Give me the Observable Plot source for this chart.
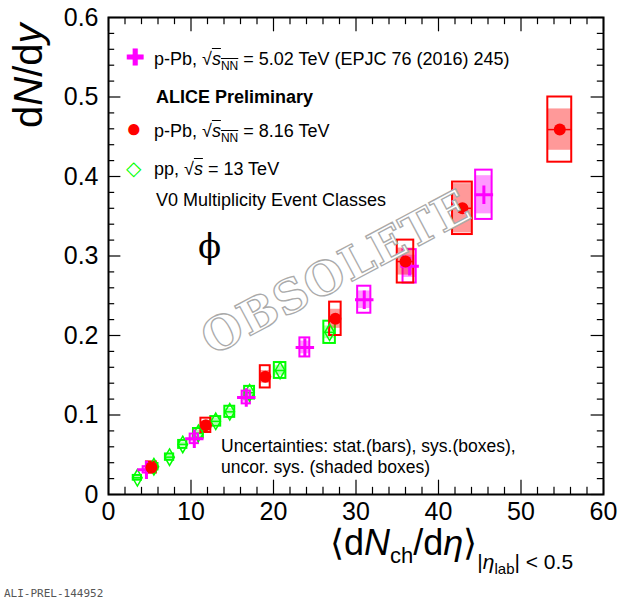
<!DOCTYPE html>
<html><head><meta charset="utf-8">
<script src="https://cdn.jsdelivr.net/npm/d3@7"></script>
<script src="https://cdn.jsdelivr.net/npm/@observablehq/plot@0.6"></script>
<style>
body{margin:0;background:#fff;font-family:"Liberation Sans",Arial,sans-serif;}
#c{position:relative;width:627px;height:603px;overflow:hidden}
.t{position:absolute;white-space:nowrap;color:#000}
</style></head><body><div id="c"></div>
<script>
const redX=[5.2,11.8,19.0,27.5,36.0,42.9,54.7];
const redY=[0.034,0.087,0.148,0.221,0.293,0.360,0.459];
const redSys=[0.007,0.009,0.014,0.021,0.027,0.033,0.041];
const redUnc=[0.004,0.005,0.008,0.012,0.017,0.031,0.026];
const redHW=[0.6,0.6,0.6,0.7,1.0,1.2,1.45];
const magX=[4.6,10.4,16.7,23.8,31.0,36.5,45.5];
const magY=[0.031,0.070,0.122,0.185,0.245,0.287,0.377];
const magSys=[0.004,0.006,0.008,0.012,0.017,0.021,0.031];
const magUnc=[0.003,0.004,0.006,0.008,0.011,0.014,0.024];
const magHW=[0.4,0.5,0.5,0.6,0.8,0.8,1.0];
const grnX=[3.5,5.5,7.4,9.0,10.9,13.0,14.7,17.1,20.8,26.8];
const grnY=[0.021,0.035,0.047,0.063,0.077,0.092,0.104,0.128,0.156,0.204];
const grnSys=[0.003,0.004,0.004,0.005,0.006,0.006,0.007,0.008,0.010,0.014];
const grnUnc=[0.002,0.002,0.003,0.003,0.004,0.004,0.004,0.005,0.006,0.008];
const grnHW=[0.5,0.5,0.5,0.5,0.6,0.6,0.6,0.6,0.7,0.7];
const xTicks=[0,10,20,30,40,50,60];
const yTicks=[0,0.1,0.2,0.3,0.4,0.5,0.6];

const mk=(X,Y,S,U,H)=>X.map((x,i)=>({x,y:Y[i],s:S[i],u:U[i],h:H[i]}));
const red=mk(redX,redY,redSys,redUnc,redHW), mag=mk(magX,magY,magSys,magUnc,magHW), grn=mk(grnX,grnY,grnSys,grnUnc,grnHW);

const minorX=d3.range(0,60.01,2), minorY=d3.range(0,0.6001,0.02);
function boxes(data,col,fill){
  return [
    Plot.rect(data,{x1:d=>d.x-d.h,x2:d=>d.x+d.h,y1:d=>d.y-d.u,y2:d=>d.y+d.u,fill,stroke:"none"}),
    Plot.rect(data,{x1:d=>d.x-d.h,x2:d=>d.x+d.h,y1:d=>d.y-d.s,y2:d=>d.y+d.s,fill:"none",stroke:col,strokeWidth:2}),
    Plot.ruleY(data,{y:"y",x1:d=>d.x-d.h,x2:d=>d.x+d.h,stroke:col,strokeWidth:1.5})
  ];
}
const chart=Plot.plot({
  width:627,height:603,marginTop:17,marginRight:24,marginBottom:109,marginLeft:108,
  x:{domain:[0,60]},y:{domain:[0,0.6]},
  style:{fontFamily:"Liberation Sans, Arial, sans-serif"},
  marks:[
    ...boxes(grn,"#00ff00","rgba(0,255,0,0.3)"),
    ...boxes(mag,"#ff00ff","rgba(255,0,255,0.4)"),
    ...boxes(red,"#ff0000","rgba(255,0,0,0.4)"),
    Plot.dot(grn,{x:"x",y:"y",symbol:"diamond",r:5,stroke:"#00ff00",strokeWidth:1.5,fill:"none"}),
    Plot.dot(mag,{x:"x",y:"y",symbol:"plus",r:6,stroke:"#ff00ff",strokeWidth:3}),
    Plot.dot(red,{x:"x",y:"y",r:6,fill:"#ff0000"}),
    Plot.ruleX(minorX,{x:d=>d,y1:0,y2:d=>d%10===0?0.018:0.009,strokeWidth:1.2}),
    Plot.ruleX(minorX,{x:d=>d,y1:0.6,y2:d=>d%10===0?0.582:0.591,strokeWidth:1.2}),
    Plot.ruleY(minorY,{y:d=>d,x1:0,x2:(d,i)=>i%5===0?1.5:0.75,strokeWidth:1.2}),
    Plot.ruleY(minorY,{y:d=>d,x1:60,x2:(d,i)=>i%5===0?58.5:59.25,strokeWidth:1.2}),
    Plot.frame({strokeWidth:2}),
    Plot.axisX(xTicks,{tickSize:0,tickPadding:8,fontSize:25,label:null}),
    Plot.axisY(yTicks,{tickSize:0,tickPadding:10,fontSize:25,label:null,tickFormat:d=>d===0?"0":String(d)})
  ]
});
const c=document.getElementById("c");
c.appendChild(chart);
c.insertAdjacentHTML("beforeend",`
<div class="t" style="font-size:40px;transform:rotate(-90deg);transform-origin:left top;top:128px;left:6px">d<i>N</i>/d<i>y</i></div>
<div class="t" style="left:330px;top:522px;font-size:36px">⟨d<i>N</i><sub style="font-size:22px">ch</sub>/d<i>η</i>⟩<span style="font-size:21px;vertical-align:-14px">|<i>η</i><sub style="font-size:15px">lab</sub>| &lt; 0.5</span></div>
<div class="t" style="left:4px;top:587px;font-size:11px;font-family:'DejaVu Sans Mono',monospace;color:#555">ALI-PREL-144952</div>
<div class="t" style="left:198px;top:226px;font-size:34px;font-family:'DejaVu Serif',serif">ϕ</div>
<div class="t" style="left:192px;top:318px;font-size:46px;font-family:'DejaVu Serif',serif;font-weight:bold;color:#fff;-webkit-text-stroke:1.3px #aaa;transform:rotate(-28deg);transform-origin:left top;letter-spacing:1px">OBSOLETE</div>
<div class="t" style="left:126px;top:42px;font-size:18px;line-height:31px">
<div><span style="color:#ff00ff;font-weight:bold;font-size:22px;display:inline-block;width:28px">✚</span>p-Pb, √<span style="text-decoration:overline"><i>s</i><sub style="font-size:12px">NN</sub></span> = 5.02 TeV (EPJC 76 (2016) 245)</div>
<div style="font-weight:bold;padding-left:30px">ALICE Preliminary</div>
<div><span style="color:#ff0000;font-size:26px;display:inline-block;width:28px">●</span>p-Pb, √<span style="text-decoration:overline"><i>s</i><sub style="font-size:12px">NN</sub></span> = 8.16 TeV</div>
<div><span style="color:#00ff00;font-size:20px;display:inline-block;width:28px">◇</span>pp, √<span style="text-decoration:overline"><i>s</i></span> = 13 TeV</div>
<div style="padding-left:30px">V0 Multiplicity Event Classes</div>
</div>
<div class="t" style="left:221px;top:436px;font-size:17.5px;line-height:21px">Uncertainties: stat.(bars), sys.(boxes),<br>uncor. sys. (shaded boxes)</div>
`);
</script></body></html>
